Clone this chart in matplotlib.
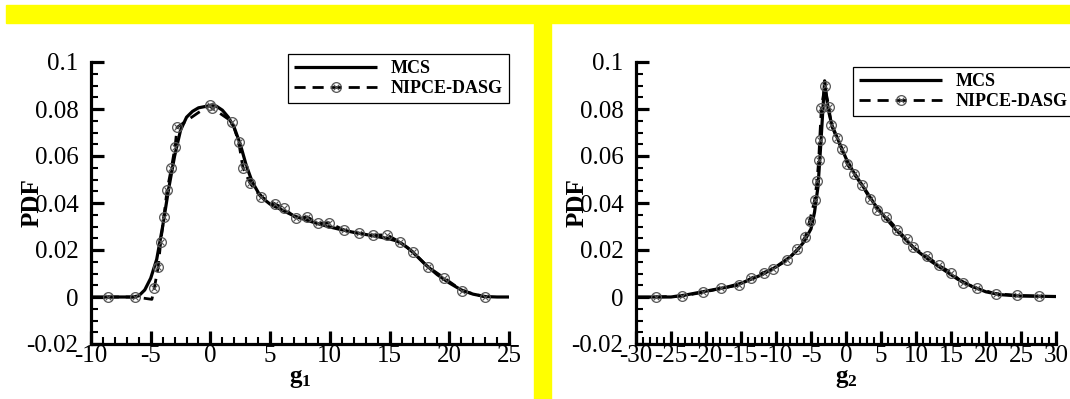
import matplotlib
matplotlib.use("Agg")
import matplotlib.pyplot as plt
from matplotlib.patches import Rectangle
from matplotlib.legend_handler import HandlerTuple
from matplotlib.ticker import MultipleLocator

plt.rcParams['font.family'] = ['Liberation Serif', 'DejaVu Serif']
plt.rcParams['mathtext.fontset'] = 'custom'
plt.rcParams['mathtext.rm'] = 'Liberation Serif'
plt.rcParams['mathtext.bf'] = 'Liberation Serif:bold'

# ---- g1: MCS reference curve
mcs1_x = [-10, -6.5, -6, -5.5, -5, -4.5, -4, -3.5, -3, -2.5, -2, -1.5, -1, -0.5, 0,
          0.5, 1, 1.5, 2, 2.5, 3, 3.5, 4, 4.5, 5, 6, 7, 8, 9, 10, 11, 12, 13, 14,
          15, 15.5, 16, 16.5, 17, 18, 19, 20, 21, 22, 23, 24, 25]
mcs1_y = [0, 0, 0.0005, 0.003, 0.008, 0.016, 0.030, 0.046, 0.060, 0.071, 0.0765,
          0.079, 0.0805, 0.081, 0.0815, 0.0812, 0.0795, 0.0765, 0.072, 0.065, 0.056,
          0.049, 0.0445, 0.0415, 0.0395, 0.037, 0.0345, 0.0328, 0.0312, 0.0298,
          0.0286, 0.0275, 0.0266, 0.0257, 0.0247, 0.024, 0.0228, 0.021, 0.0188,
          0.0138, 0.0095, 0.006, 0.003, 0.0012, 0.0002, 0, 0]

# ---- g1: NIPCE-DASG collocation results
nip1_x = [-8.6, -6.3, -4.9, -4.7, -4.37, -4.16, -3.9, -3.63, -3.27, -2.96, -2.79, -1.0,
          -0.05, 0.1, 1.81, 2.36, 2.72, 3.32, 4.21, 5.41, 6.16, 7.2, 8.1, 9.0, 9.9,
          11.2, 12.4, 13.6, 14.8, 15.9, 17.0, 18.2, 19.55, 21.1, 23.0]
nip1_y = [0, 0, -0.001, 0.0038, 0.0129, 0.0235, 0.034, 0.0455, 0.0549, 0.064, 0.0722,
          0.0785, 0.0815, 0.0806, 0.0746, 0.0661, 0.055, 0.0484, 0.0427, 0.0396,
          0.0377, 0.0335, 0.0341, 0.0314, 0.0316, 0.0285, 0.0271, 0.0264, 0.0264,
          0.0233, 0.019, 0.0129, 0.0082, 0.0026, 0.0]
nip1_marks = [0, 1, 3, 4, 5, 6, 7, 8, 9, 10, 12, 13, 14, 15, 16, 17, 18, 19, 20, 21,
              22, 23, 24, 25, 26, 27, 28, 29, 30, 31, 32, 33, 34]

# ---- g2: MCS reference curve
mcs2_x = [-30, -25, -23, -20, -17, -15, -12, -10, -8, -7, -6, -5, -4.5, -4, -3.6,
          -3.3, -3.05, -2.8, -2.4, -2, -1, 0, 1, 2, 3, 4, 5, 6, 7, 8, 9, 10, 12,
          14, 16, 18, 20, 22, 25, 28, 30]
mcs2_y = [0, 0, 0.0008, 0.0025, 0.0042, 0.0058, 0.0095, 0.0128, 0.017, 0.0198,
          0.0235, 0.029, 0.036, 0.047, 0.065, 0.080, 0.092, 0.085, 0.078, 0.073,
          0.066, 0.059, 0.0535, 0.049, 0.0445, 0.0398, 0.036, 0.0325, 0.029, 0.026,
          0.023, 0.020, 0.0155, 0.0115, 0.0075, 0.0045, 0.0022, 0.001, 0.0004,
          0.0003, 0.0002]

# ---- g2: NIPCE-DASG collocation results
nip2_x = [-27.2, -23.4, -20.4, -17.8, -15.24, -13.56, -11.77, -10.4, -8.39, -6.94,
          -5.79, -5.2, -4.47, -4.14, -3.9, -3.76, -3.52, -3.03, -2.44, -2.11, -1.34,
          -0.61, 0.2, 1.17, 2.29, 3.49, 4.46, 5.76, 7.35, 8.66, 9.52, 11.55, 13.23,
          15.0, 16.7, 18.7, 21.4, 24.4, 27.6]
nip2_y = [0, 0.0004, 0.002, 0.0037, 0.0051, 0.008, 0.0104, 0.0121, 0.0156, 0.0203,
          0.0257, 0.0323, 0.0413, 0.0494, 0.0583, 0.067, 0.0806, 0.0896, 0.0809,
          0.0732, 0.0678, 0.0628, 0.0564, 0.0522, 0.0475, 0.0415, 0.0372, 0.0341,
          0.0287, 0.0245, 0.0213, 0.0174, 0.0135, 0.0104, 0.0061, 0.0037, 0.0014,
          0.0007, 0.0004]

ytick_vals = [-0.02, 0, 0.02, 0.04, 0.06, 0.08, 0.1]
ytick_text = ['-0.02', '0', '0.02', '0.04', '0.06', '0.08', '0.1']
xticks1 = [-10, -5, 0, 5, 10, 15, 20, 25]
xticks2 = [-30, -25, -20, -15, -10, -5, 0, 5, 10, 15, 20, 25, 30]

W, H = 1070, 399
fig = plt.figure(figsize=(W / 100, H / 100), dpi=100)

# yellow frame pieces
fig.patches.append(Rectangle((6 / W, 1 - 23 / H), 1 - 6 / W, 18 / H,
                             transform=fig.transFigure, color='#ffff00', zorder=0))
fig.patches.append(Rectangle((534 / W, 0), 17 / W, 1 - 23 / H,
                             transform=fig.transFigure, color='#ffff00', zorder=0))


def style_axes(ax, xticks, xlabel):
    ax.set_facecolor('none')
    ax.set_ylim(-0.02, 0.1)
    ax.set_xlim(xticks[0], xticks[-1])
    ax.spines['top'].set_visible(False)
    ax.spines['right'].set_visible(False)
    for s in ('left', 'bottom'):
        ax.spines[s].set_linewidth(2.3)
    ax.set_yticks(ytick_vals)
    ax.set_yticklabels(ytick_text)
    ax.set_xticks(xticks)
    ax.set_xticklabels([str(v) for v in xticks])
    ax.xaxis.set_minor_locator(MultipleLocator(1))
    ax.yaxis.set_minor_locator(MultipleLocator(0.005))
    ax.tick_params(which='major', direction='in', length=9.5, width=2.3,
                   labelsize=18, top=False, right=False)
    ax.tick_params(which='minor', direction='in', length=5, width=1.5,
                   top=False, right=False)
    ax.tick_params(axis='y', which='major', pad=9)
    ax.tick_params(axis='x', which='major', pad=1)
    ax.set_ylabel('PDF', fontsize=18, fontweight='bold', labelpad=-12)
    ax.set_xlabel(xlabel, fontsize=18, labelpad=0)


def draw(ax, mx, my, nx, ny, marks, legend_anchor):
    h_mcs, = ax.plot(mx, my, color='black', lw=2.3, solid_capstyle='butt', zorder=3)
    h_nip, = ax.plot(nx, ny, color='black', lw=2.0, ls=(0, (4, 2.5)), zorder=4,
                     marker='o', markevery=marks, ms=7, mfc='none', mec='#555555',
                     mew=0.9)
    h_x, = ax.plot([nx[i] for i in marks], [ny[i] for i in marks], ls='none',
                   marker='x', ms=4, mec='#555555', mew=0.8, zorder=5)
    leg = ax.legend([h_mcs, (h_nip, h_x)], ['MCS', 'NIPCE-DASG'],
                    handler_map={tuple: HandlerTuple(ndivide=1, pad=0)},
                    loc='upper left', bbox_to_anchor=legend_anchor,
                    bbox_transform=fig.transFigure, fancybox=False, shadow=False,
                    framealpha=1, edgecolor='black', handlelength=4.6,
                    handletextpad=0.75, borderpad=0.35, labelspacing=0.15,
                    borderaxespad=0, prop={'weight': 'bold', 'size': 13})
    leg.get_frame().set_linewidth(0.9)


ax1 = fig.add_axes([91 / W, 1 - 344 / H, 418 / W, 282 / H])
style_axes(ax1, xticks1, r'$\mathbf{g_1}$')
draw(ax1, mcs1_x, mcs1_y, nip1_x, nip1_y, nip1_marks, (288 / W, 1 - 54 / H))

ax2 = fig.add_axes([636 / W, 1 - 344 / H, 420 / W, 282 / H])
style_axes(ax2, xticks2, r'$\mathbf{g_2}$')
draw(ax2, mcs2_x, mcs2_y, nip2_x, nip2_y, list(range(len(nip2_x))),
     (853 / W, 1 - 67 / H))

fig.savefig('out.png', dpi=100)
